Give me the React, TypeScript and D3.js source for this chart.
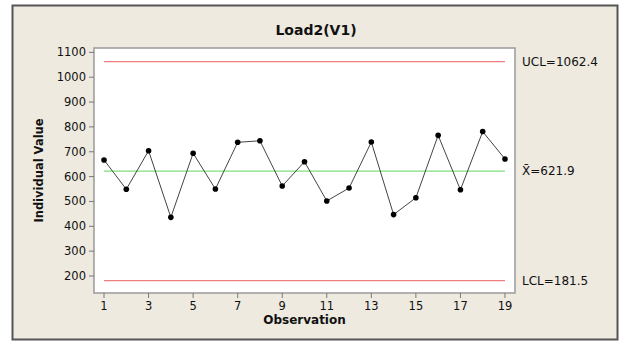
import React from 'react';
import * as d3 from 'd3';

const observations = d3.range(1, 20);
const values = [667, 549, 704, 436, 694, 550, 738, 744, 562, 660, 502, 554, 739, 447, 515, 766, 547, 781, 671];
const yTicks = [200, 300, 400, 500, 600, 700, 800, 900, 1000, 1100];
const xTicks = [1, 3, 5, 7, 9, 11, 13, 15, 17, 19];
const limits = [
  { name: 'UCL', label: 'UCL=1062.4', value: 1062.4, color: '#f08080' },
  { name: 'mean', label: 'X\u0304=621.9', value: 621.9, color: '#7ee07e' },
  { name: 'LCL', label: 'LCL=181.5', value: 181.5, color: '#f08080' },
];

const width = 621;
const height = 341;
const plot = { left: 94, top: 48, right: 515, bottom: 293 };
const font = 'Verdana, "DejaVu Sans", sans-serif';

export default function App() {
  const x = d3.scaleLinear().domain([0.55, 19.45]).range([plot.left, plot.right]);
  const y = d3.scaleLinear().domain([131.6, 1117.5]).range([plot.bottom, plot.top]);

  const points = observations.map((o, i) => ({ o, v: values[i] }));
  const line = d3.line<{ o: number; v: number }>()
    .x((d) => x(d.o))
    .y((d) => y(d.v));

  return (
    <svg width={width} height={height} style={{ position: 'absolute', left: 0, top: 0 }} fontFamily={font}>
      <rect x={12.5} y={5.5} width={605} height={334} fill="#eeeae0" stroke="#555" strokeWidth={2} />

      <text x={316} y={35} textAnchor="middle" fontSize={14} fontWeight="bold" fill="#111">Load2(V1)</text>

      {/* plot area */}
      <rect x={plot.left} y={plot.top} width={plot.right - plot.left} height={plot.bottom - plot.top}
        fill="#fff" stroke="#9a9a9a" strokeWidth={1.5} />

      {/* Y axis */}
      {yTicks.map((t) => (
        <g key={t} transform={`translate(0, ${y(t)})`}>
          <line x1={plot.left - 5} x2={plot.left} stroke="#777" />
          <text x={plot.left - 8} dy="0.35em" textAnchor="end" fontSize={11.5} fill="#111">{t}</text>
        </g>
      ))}
      <text transform={`translate(43, ${(plot.top + plot.bottom) / 2}) rotate(-90)`} textAnchor="middle"
        fontSize={11.5} fontWeight="bold" fill="#111">Individual Value</text>

      {/* X axis */}
      {xTicks.map((t) => (
        <g key={t} transform={`translate(${x(t)}, 0)`}>
          <line y1={plot.bottom} y2={plot.bottom + 5} stroke="#777" />
          <text y={plot.bottom + 17} textAnchor="middle" fontSize={11.5} fill="#111">{t}</text>
        </g>
      ))}
      <text x={(plot.left + plot.right) / 2} y={324} textAnchor="middle" fontSize={12} fontWeight="bold" fill="#111">Observation</text>

      {/* control limits */}
      {limits.map((l) => (
        <g key={l.name}>
          <line x1={x(1)} x2={x(19)} y1={y(l.value)} y2={y(l.value)} stroke={l.color} strokeWidth={1.2} />
          <text x={522} y={y(l.value)} dy="0.35em" fontSize={12} fill="#111">{l.label}</text>
        </g>
      ))}

      {/* data */}
      <path d={line(points) ?? ''} fill="none" stroke="#444" strokeWidth={1} />
      {points.map((p) => (
        <circle key={p.o} cx={x(p.o)} cy={y(p.v)} r={2.8} fill="#000" />
      ))}
    </svg>
  );
}
